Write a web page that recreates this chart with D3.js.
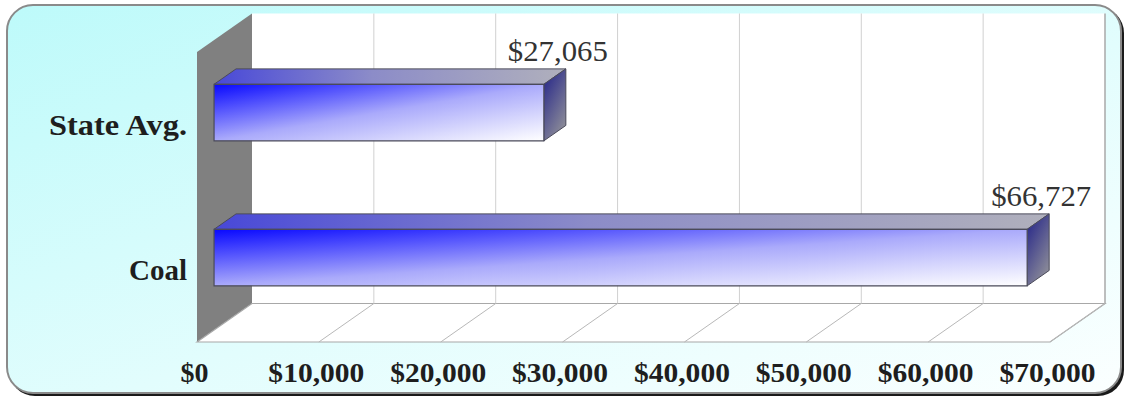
<!DOCTYPE html>
<html><head><meta charset="utf-8">
<script src="https://cdn.jsdelivr.net/npm/d3@7"></script>
<style>html,body{margin:0;padding:0;background:#fff;}svg{display:block;}</style>
</head><body>
<svg id="chart" width="1128" height="398"></svg>
<script>
const categories = ["State Avg.", "Coal"];
const values = [27065, 66727];
const valueLabels = ["$27,065", "$66,727"];
const tickValues = [0, 10000, 20000, 30000, 40000, 50000, 60000, 70000];
const tickLabels = ["$0", "$10,000", "$20,000", "$30,000", "$40,000", "$50,000", "$60,000", "$70,000"];

const svg = d3.select("#chart");
const defs = svg.append("defs");
const serif = "'Liberation Serif', 'Times New Roman', serif";

// background gradient
const bg = defs.append("linearGradient").attr("id","bg").attr("x1",0).attr("y1",0).attr("x2",1).attr("y2",1);
bg.append("stop").attr("offset",0).attr("stop-color","#bdfafa");
bg.append("stop").attr("offset",0.55).attr("stop-color","#e2fdfd");
bg.append("stop").attr("offset",1).attr("stop-color","#fbffff");

const gFront = defs.append("linearGradient").attr("id","gFront").attr("x1",0).attr("y1",0).attr("x2",1).attr("y2",1);
gFront.append("stop").attr("offset",0).attr("stop-color","#0808ff");
gFront.append("stop").attr("offset",0.5).attr("stop-color","#aaaafb");
gFront.append("stop").attr("offset",1).attr("stop-color","#ffffff");

const gTop = defs.append("linearGradient").attr("id","gTop").attr("x1",0).attr("y1",0).attr("x2",1).attr("y2",0);
gTop.append("stop").attr("offset",0).attr("stop-color","#4848d8");
gTop.append("stop").attr("offset",0.45).attr("stop-color","#8c8cc8");
gTop.append("stop").attr("offset",1).attr("stop-color","#b0b0bc");

const gSide = defs.append("linearGradient").attr("id","gSide").attr("x1",0).attr("y1",0).attr("x2",0.6).attr("y2",1);
gSide.append("stop").attr("offset",0).attr("stop-color","#202088");
gSide.append("stop").attr("offset",1).attr("stop-color","#8a8a98");

// frame
svg.append("rect").attr("x",9).attr("y",7).attr("width",1115).attr("height",389).attr("rx",26).attr("fill","#1a1a1a");
svg.append("rect").attr("x",7).attr("y",5).attr("width",1114).attr("height",388).attr("rx",26)
  .attr("fill","url(#bg)").attr("stroke","#8a8a8a").attr("stroke-width",2);

// projection
const depth = {dx: 55, dy: -38.5};
const x = d3.scaleLinear().domain([0, 70000]).range([197, 1050]);
const y = d3.scaleBand().domain(categories).range([52, 342]);
const yTop = y.range()[0], yBot = y.range()[1];
const P = (px, py, f) => [px + depth.dx*f, py + depth.dy*f];
const pts = arr => arr.map(p=>p.join(",")).join(" ");

// back wall
const bw0 = P(x(0), yTop, 1), bw1 = P(x(70000), yBot, 1);
svg.append("rect").attr("x",bw0[0]).attr("y",bw0[1]).attr("width",bw1[0]-bw0[0]).attr("height",bw1[1]-bw0[1]).attr("fill","#ffffff");

// side wall (gray)
svg.append("polygon").attr("points",pts([P(x(0),yTop,0),P(x(0),yTop,1),P(x(0),yBot,1),P(x(0),yBot,0)]))
  .attr("fill","#808080");

// floor
svg.append("polygon").attr("points",pts([P(x(0),yBot,0),P(x(0),yBot,1),P(x(70000),yBot,1),P(x(70000),yBot,0)]))
  .attr("fill","#ffffff").attr("stroke","#a8a8a8").attr("stroke-width",1.2);

// gridlines on back wall & floor
tickValues.forEach(v => {
  const a = P(x(v), yTop, 1), b = P(x(v), yBot, 1), c = P(x(v), yBot, 0);
  if (v > 0) {
    svg.append("line").attr("x1",a[0]).attr("y1",a[1]).attr("x2",b[0]).attr("y2",b[1])
      .attr("stroke", v === 70000 ? "#a8a8a8" : "#d0d0d0").attr("stroke-width", v === 70000 ? 1.5 : 1);
    svg.append("line").attr("x1",b[0]).attr("y1",b[1]).attr("x2",c[0]).attr("y2",c[1])
      .attr("stroke","#b8b8b8").attr("stroke-width",1);
  }
});

// bars
const f0 = 0.31, f1 = 0.71;
const barH = y.step() * 0.39;
categories.forEach((cat, i) => {
  const cy = y(cat) + y.bandwidth()/2;
  const x0 = x(0), x1 = x(values[i]);
  const tl = P(x0, cy - barH/2, f0), tr = P(x1, cy - barH/2, f0), br = P(x1, cy + barH/2, f0), bl = P(x0, cy + barH/2, f0);
  const btl = P(x0, cy - barH/2, f1), btr = P(x1, cy - barH/2, f1), bbr = P(x1, cy + barH/2, f1);
  const g = svg.append("g");
  g.append("polygon").attr("points",pts([tl,btl,btr,tr]))
    .attr("fill","url(#gTop)").attr("stroke","#4a4a5a").attr("stroke-width",1);
  g.append("polygon").attr("points",pts([tr,btr,bbr,br]))
    .attr("fill","url(#gSide)").attr("stroke","#4a4a5a").attr("stroke-width",1);
  g.append("polygon").attr("points",pts([tl,tr,br,bl]))
    .attr("fill","url(#gFront)").attr("stroke","#4a4a5a").attr("stroke-width",1.2);
  // value label
  g.append("text").attr("x",(tr[0]+btr[0])/2 + 3).attr("y",btr[1]-8)
    .attr("text-anchor","middle").attr("font-family",serif)
    .attr("font-size",29).attr("fill","#333")
    .attr("textLength",100).attr("lengthAdjust","spacingAndGlyphs").text(valueLabels[i]);
});

// x axis labels
const xAxis = d3.axisBottom(x).tickValues(tickValues).tickFormat((d,i)=>tickLabels[i]).tickSize(0).tickPadding(0);
const gx = svg.append("g").attr("transform",`translate(-3,${yBot})`).call(xAxis);
gx.select(".domain").remove();
gx.selectAll("text").attr("font-family",serif).attr("font-weight","bold")
  .attr("font-size",28).attr("fill","#1e1e1e").attr("dy",0).attr("y",40);
gx.selectAll("text").filter((d,i)=> i > 0)
  .attr("textLength",96).attr("lengthAdjust","spacingAndGlyphs");

// y axis labels
const yAxis = d3.axisLeft(y).tickSize(0).tickPadding(0);
const gy = svg.append("g").attr("transform",`translate(187,0)`).call(yAxis);
gy.select(".domain").remove();
gy.selectAll("text").attr("font-family",serif).attr("font-weight","bold")
  .attr("font-size",29).attr("fill","#1e1e1e").attr("dy","0.35em")
  .attr("textLength",d => d === "Coal" ? 58 : 138).attr("lengthAdjust","spacingAndGlyphs");
</script>
</body></html>
